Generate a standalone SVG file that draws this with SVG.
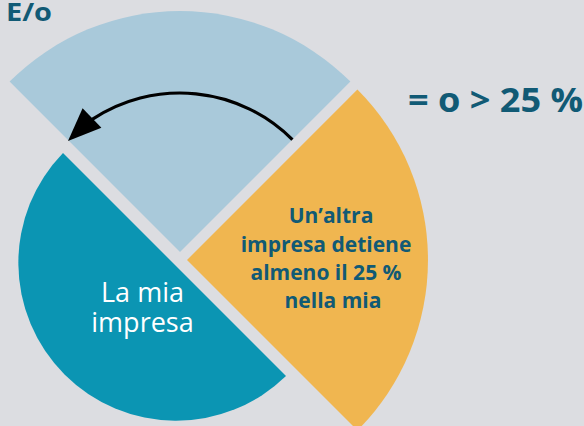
<svg xmlns="http://www.w3.org/2000/svg" width="584" height="426" viewBox="0 0 584 426">
  <style>
    .dark { fill: #115a75; font-family: "Open Sans", "Liberation Sans", sans-serif; font-weight: 700; }
    .white { fill: #ffffff; font-family: "Open Sans", "Liberation Sans", sans-serif; font-weight: 400; font-size: 27px; text-anchor: middle; }
    .lab { font-size: 21px; text-anchor: middle; }
    .conn { fill: none; stroke: #000000; stroke-width: 3.2; }
  </style>
  <rect x="0" y="0" width="584" height="426" fill="#dcdde1"/>
  <g id="other-sector">
    <path d="M 180 252 L 9.6 81.6 A 241 241 0 0 1 350.4 81.6 Z" fill="#a9c9da"/>
  </g>
  <g id="la-mia-impresa">
    <path d="M 63 153 A 157.7 157.7 0 0 0 286 376 Z" fill="#0b95b3"/>
    <text class="white" x="142.5" y="302">La mia</text>
    <text class="white" x="142.5" y="332">impresa</text>
  </g>
  <g id="altra-impresa">
    <path d="M 187 260 L 357.4 89.6 A 241 241 0 0 1 357.4 430.4 Z" fill="#f0b650"/>
    <text class="dark lab" x="331" y="223">Un’altra</text>
    <text class="dark lab" x="326" y="252">impresa detiene</text>
    <text class="dark lab" x="326" y="280">almeno il 25 %</text>
    <text class="dark lab" x="333" y="308">nella mia</text>
  </g>
  <g id="label-eo">
    <text class="dark" x="6" y="20.5" font-size="25.5" textLength="46" lengthAdjust="spacingAndGlyphs">E/o</text>
  </g>
  <g id="label-threshold">
    <text class="dark" x="408" y="112" font-size="34" textLength="175" lengthAdjust="spacingAndGlyphs">= o &gt; 25 %</text>
  </g>
  <g id="connectors">
    <path class="conn" d="M 292.4 139.6 A 159 159 0 0 0 92.2 119.4"/>
    <polygon points="68,141 82.6,108.2 101.4,127.8" fill="#000000"/>
  </g>
</svg>
